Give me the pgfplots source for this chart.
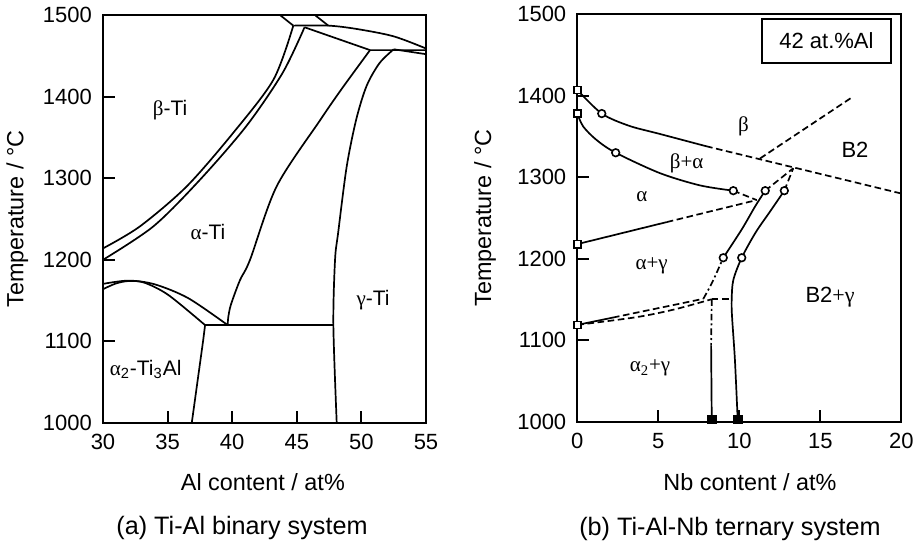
\documentclass[border=0pt]{standalone}
\usepackage{fontspec}
\setmainfont{Liberation Sans}
\newfontfamily\grk{Liberation Serif}
\usepackage{pgfplots}
\pgfplotsset{compat=1.18}
\pgfplotsset{phase/.style={
  scale only axis,
  axis line style={line width=1.1pt},
  tick align=inside,
  xtick pos=bottom, ytick pos=left,
  major tick length=6pt,
  tick style={line width=1pt,black},
  minor tick num=0,
  ymin=1000, ymax=1500,
  ytick={1000,1100,...,1500},
  scaled ticks=false,
  /pgf/number format/assume math mode=true,
  /pgf/number format/set thousands separator={},
  ticklabel style={font=\fontsize{11}{13}\selectfont},
  yticklabel style={xshift=-2pt},
  xticklabel style={yshift=-2pt},
  label style={font=\fontsize{11.7}{14}\selectfont},
  clip mode=individual,
  cycle list={{black, mark=none, solid}},
  every axis plot/.append style={line width=0.85pt, black},
  ylabel={Temperature / °C},
}}
\tikzset{dsh/.style={dash pattern=on 3.3pt off 1.8pt},
  ocirc/.style={only marks, mark=*, mark size=1.9pt, mark options={fill=white, line width=0.8pt, solid}},
  osq/.style={only marks, mark=square*, mark size=1.8pt, mark options={fill=white, line width=0.8pt, solid}},
  fsq/.style={only marks, mark=square*, mark size=2pt, mark options={fill=black, solid}}}
\begin{document}
\begin{tikzpicture}
\useasboundingbox (0,0) rectangle (461.5pt,-271.5pt);
% ---------------- (a) ----------------
\begin{axis}[phase, at={(51.5pt,-211.5pt)}, anchor=south west,
  width=161.5pt, height=204pt,
  xmin=30, xmax=55, xtick={30,35,...,55},
  xlabel={Al content / at\%},
  xlabel style={at={(axis description cs:0.495,-0.145)}, anchor=center},
  ylabel style={at={(axis description cs:-0.265,0.5)}, anchor=center},
]
\addplot[smooth] coordinates {(30,1214) (32.86,1241) (36.48,1290) (40.1,1356) (43.2,1421) (44.73,1487)};
\addplot[smooth] coordinates {(30,1200) (33.9,1241) (37.5,1298) (41.1,1364) (43.9,1429) (45.6,1485)};
\addplot[mark=none] coordinates {(43.7,1500) (44.73,1487)};
\addplot[mark=none] coordinates {(46.4,1500) (47.44,1487)};
\addplot[smooth] coordinates {(44.73,1487) (47.44,1487) (49.6,1483) (52.47,1474) (55,1459)};
\addplot[mark=none] coordinates {(45.6,1485) (50.67,1457) (55,1457)};
\addplot[mark=none] coordinates {(52.5,1458) (55,1452)};
\addplot[smooth] coordinates {(50.67,1457) (48.5,1410) (46.8,1371) (43.44,1290) (41.38,1200) (40.6,1175) (39.9,1145) (39.7,1130) (39.65,1120)};
\addplot[smooth] coordinates {(52.5,1458) (51.4,1441) (50.4,1413) (49.6,1372) (48.86,1314) (48.2,1233) (47.96,1200) (47.83,1120) (48.09,1000)};
\addplot[mark=none] coordinates {(37.9,1120) (47.83,1120)};
\addplot[mark=none] coordinates {(37.9,1120) (37.76,1102) (36.87,1000)};
\addplot[smooth] coordinates {(30,1170.5) (31.96,1174.5) (34.0,1170) (36.6,1153) (39.65,1120)};
\addplot[smooth] coordinates {(30,1164) (31.0,1171) (32,1174) (33.2,1172) (35.05,1157) (37.9,1120)};
\node[font=\fontsize{10.5}{12}\selectfont] at (axis cs:35.19,1384) {{\grk β}-Ti};
\node[font=\fontsize{10.5}{12}\selectfont] at (axis cs:38.13,1234) {{\grk α}-Ti};
\node[font=\fontsize{10.5}{12}\selectfont] at (axis cs:50.9,1151) {{\grk γ}-Ti};
\node[font=\fontsize{10.5}{12}\selectfont] at (axis cs:33.3,1066) {{\grk α}\textsubscript{2}-Ti\textsubscript{3}Al};
\end{axis}
% ---------------- (b) ----------------
\begin{axis}[phase, at={(288.65pt,-211pt)}, anchor=south west,
  width=162pt, height=204pt,
  xmin=0, xmax=20, xtick={0,5,...,20},
  xlabel={Nb content / at\%},
  xlabel style={at={(axis description cs:0.533,-0.147)}, anchor=center},
  ylabel style={at={(axis description cs:-0.285,0.5)}, anchor=center},
]
% beta / beta+alpha
\addplot[smooth] coordinates {(0,1407) (1.51,1378) (3.2,1363) (5.1,1353) (7.95,1338)};
\addplot[dsh] coordinates {(7.95,1338) (20,1280)};
% beta+alpha / alpha
\addplot[smooth] coordinates {(0,1378) (0.37,1362) (1.19,1345.6) (2.37,1330) (5.1,1305) (7.57,1290) (9.63,1283.5)};
\addplot[dsh] coordinates {(9.63,1283.5) (11.07,1272)};
% alpha / alpha+gamma
\addplot[mark=none] coordinates {(0,1218) (5.52,1245)};
\addplot[dsh] coordinates {(5.52,1245) (11.07,1272)};
% beta / B2
\addplot[dsh] coordinates {(11.28,1323) (17.04,1399)};
% left curve
\addplot[smooth, dash pattern=on 3.3pt off 1.5pt on 1pt off 1.5pt] coordinates {(7.78,1151) (8.35,1172) (9.01,1201.3)};
\addplot[smooth] coordinates {(9.01,1201.3) (10.15,1236) (11.0,1265) (11.6,1283.5)};
\addplot[dsh] coordinates {(11.6,1283.5) (13.33,1311)};
% right curve
\addplot[smooth] coordinates {(9.9,1003) (9.73,1076) (9.55,1130) (9.53,1150) (9.63,1174) (10.15,1201.3) (11.0,1232) (11.9,1258) (12.78,1283.5)};
\addplot[dsh] coordinates {(12.78,1283.5) (13.33,1311)};
% lower left lines
\addplot[mark=none] coordinates {(0,1119) (2.2,1128)};
\addplot[dsh] coordinates {(2.2,1128) (3.65,1134) (5.6,1142) (7.78,1151)};
\addplot[dsh, smooth] coordinates {(0,1119) (3.65,1128.5) (6.0,1138) (8.3,1150.5)};
\addplot[dsh] coordinates {(8.3,1150.5) (9.53,1150.5)};
\addplot[dash pattern=on 3.3pt off 1.5pt on 1pt off 1.5pt] coordinates {(8.3,1150.5) (8.26,1094)};
\addplot[mark=none] coordinates {(8.26,1094) (8.3,1003)};
% markers
\addplot[osq] coordinates {(0,1407) (0,1378) (0,1218) (0,1119)};
\addplot[ocirc] coordinates {(1.51,1378) (2.37,1330) (9.63,1283.5) (11.6,1283.5) (12.78,1283.5) (9.01,1201.3) (10.15,1201.3)};
\addplot[fsq] coordinates {(8.3,1003) (9.9,1003)};
% box
\draw[line width=0.9pt] (axis cs:11.42,1440) rectangle (axis cs:19.35,1494);
\node[font=\fontsize{11}{13}\selectfont] at (axis cs:15.38,1467) {42 at.\%Al};
% labels
\node[font=\fontsize{10.5}{12}\selectfont] at (axis cs:10.25,1362) {\grk β};
\node[font=\fontsize{11}{13}\selectfont] at (axis cs:17.14,1333) {B2};
\node[font=\fontsize{10.5}{12}\selectfont] at (axis cs:6.75,1317) {\grk β+α};
\node[font=\fontsize{10.5}{12}\selectfont] at (axis cs:3.98,1276) {\grk α};
\node[font=\fontsize{10.5}{12}\selectfont] at (axis cs:4.59,1192) {\grk α+γ};
\node[font=\fontsize{11}{13}\selectfont] at (axis cs:15.6,1153.5) {B2{\grk +γ}};
\node[font=\fontsize{10.5}{12}\selectfont] at (axis cs:4.49,1066) {\grk α\textsubscript{2}+γ};
\end{axis}
\node[font=\fontsize{12.6}{15}\selectfont] at (121pt,-264pt) {(a) Ti-Al binary system};
\node[font=\fontsize{12.6}{15}\selectfont] at (365pt,-264.5pt) {(b) Ti-Al-Nb ternary system};
\end{tikzpicture}
\end{document}
